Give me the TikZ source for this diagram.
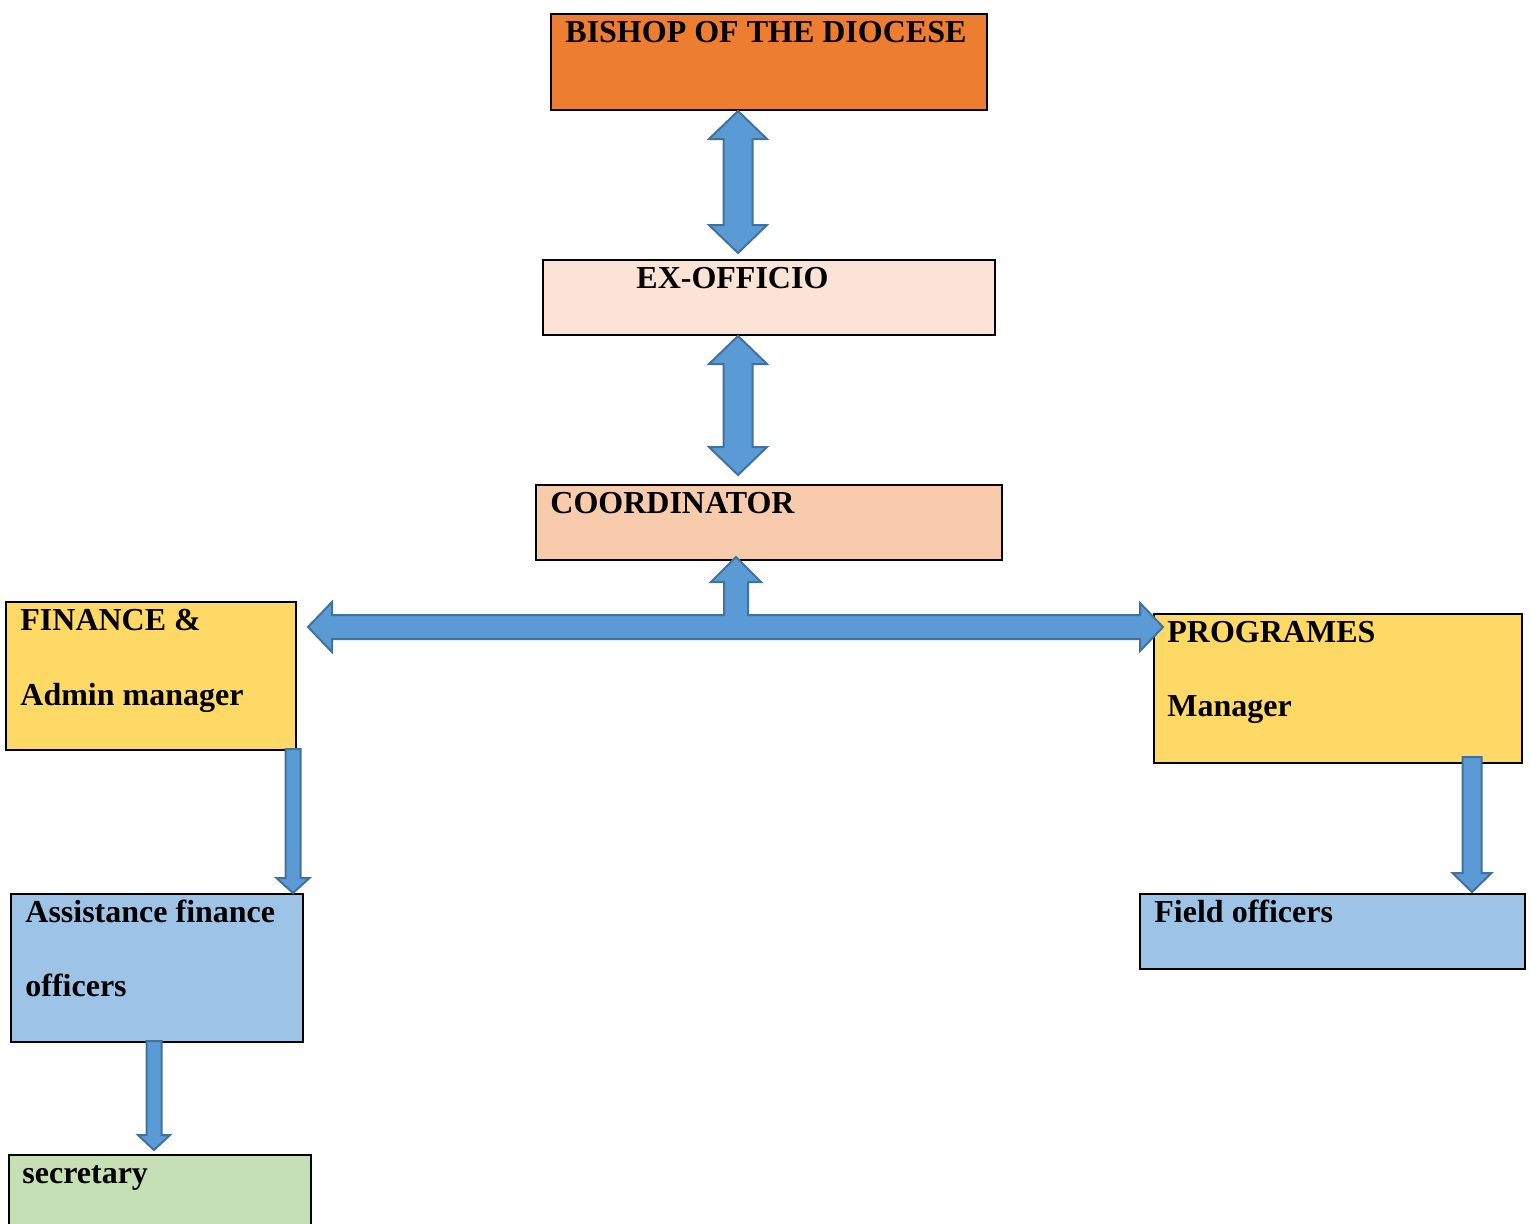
\documentclass[tikz,border=0pt]{standalone}
\usepackage{fontspec}
\setmainfont{Liberation Serif}
\usetikzlibrary{calc}

\definecolor{bishopfill}{HTML}{ED7D31}
\definecolor{exfill}{HTML}{FBE4D5}
\definecolor{coordfill}{HTML}{F8CBAD}
\definecolor{mgrfill}{HTML}{FFD966}
\definecolor{officerfill}{HTML}{9DC3E6}
\definecolor{secfill}{HTML}{C5E0B4}
\definecolor{arrowfill}{HTML}{5B9BD5}
\definecolor{arrowline}{HTML}{41719C}

\tikzset{
    box/.style = {draw=black, line width=1pt, rectangle, inner sep=0pt, anchor=north west},
    txt/.style = {font=\fontsize{16pt}{19pt}\selectfont\bfseries, inner sep=0pt, anchor=base west},
    blockarrow/.style = {fill=arrowfill, draw=arrowline, line width=1pt, line join=miter}
}

% down arrow from #1 (top of shaft) to #2 (tip); half shaft, half head, head length in px
\newcommand{\downblock}[5]{%
    \draw[blockarrow] let \p1=(#1), \p2=(#2) in
        (\x1-#3*0.5pt,\y1) -- (\x1+#3*0.5pt,\y1) -- (\x1+#3*0.5pt,\y2+#5*0.5pt)
        -- (\x1+#4*0.5pt,\y2+#5*0.5pt) -- (\x1,\y2) -- (\x1-#4*0.5pt,\y2+#5*0.5pt)
        -- (\x1-#3*0.5pt,\y2+#5*0.5pt) -- cycle;
}
% up-down arrow between tips #1 (top) and #2 (bottom)
\newcommand{\dblblock}[2]{%
    \draw[blockarrow] let \p1=(#1), \p2=(#2) in
        (\x1,\y1) -- (\x1+14.5pt,\y1-14pt) -- (\x1+7.25pt,\y1-14pt)
        -- (\x1+7.25pt,\y2+14pt) -- (\x1+14.5pt,\y2+14pt) -- (\x1,\y2)
        -- (\x1-14.5pt,\y2+14pt) -- (\x1-7.25pt,\y2+14pt)
        -- (\x1-7.25pt,\y1-14pt) -- (\x1-14.5pt,\y1-14pt) -- cycle;
}

\begin{document}
\begin{tikzpicture}[x=0.5pt, y=-0.5pt]
    \useasboundingbox (0,0) rectangle (1531,1223);

    % boxes
    \node[box, fill=bishopfill, minimum width=218pt, minimum height=48pt] (bishop) at (550,13) {};
    \node[box, fill=exfill, minimum width=226pt, minimum height=37.5pt] (exofficio) at (542,259) {};
    \node[box, fill=coordfill, minimum width=233pt, minimum height=37.5pt] (coordinator) at (535,484) {};
    \node[box, fill=mgrfill, minimum width=145pt, minimum height=74pt] (finance) at (5,601) {};
    \node[box, fill=mgrfill, minimum width=184pt, minimum height=74.5pt] (programes) at (1153,613) {};
    \node[box, fill=officerfill, minimum width=146pt, minimum height=74pt] (assistance) at (10,893) {};
    \node[box, fill=officerfill, minimum width=192.5pt, minimum height=37.5pt] (field) at (1139,893) {};
    \node[box, fill=secfill, minimum width=151pt, minimum height=45pt] (secretary) at (8,1154) {};

    % texts
    \node[txt] (bishop-t) at ([shift={(15,29)}]bishop.north west) {BISHOP OF THE DIOCESE};
    \node[txt] (exofficio-t) at ([shift={(94,29)}]exofficio.north west) {EX-OFFICIO};
    \node[txt] (coordinator-t) at ([shift={(15,29)}]coordinator.north west) {COORDINATOR};
    \node[txt] (finance-t1) at ([shift={(15,29)}]finance.north west) {FINANCE \&};
    \node[txt] (finance-t2) at ([shift={(0,75)}]finance-t1.base west) {Admin manager};
    \node[txt] (programes-t1) at ([shift={(14,29)}]programes.north west) {PROGRAMES};
    \node[txt] (programes-t2) at ([shift={(0,74)}]programes-t1.base west) {Manager};
    \node[txt] (assistance-t1) at ([shift={(15,29)}]assistance.north west) {Assistance finance};
    \node[txt] (assistance-t2) at ([shift={(0,74)}]assistance-t1.base west) {officers};
    \node[txt] (field-t) at ([shift={(15,29)}]field.north west) {Field officers};
    \node[txt] (secretary-t) at ([shift={(14,29)}]secretary.north west) {secretary};

    % arrow end points
    \coordinate (a1top) at (738,111);
    \coordinate (a1bot) at (738,253);
    \coordinate (a2top) at (738,336);
    \coordinate (a2bot) at (738,475);
    \coordinate (fintop) at (293,749);
    \coordinate (fintip) at (293,893);
    \coordinate (asstop) at (154,1041);
    \coordinate (asstip) at (154,1150);
    \coordinate (progtop) at (1472,757);
    \coordinate (progtip) at (1472,892);

    % arrows
    \dblblock{a1top}{a1bot}
    \dblblock{a2top}{a2bot}
    \draw[blockarrow] (308,627) -- (332,602) -- (332,615) -- (724,615) -- (724,582)
        -- (711,582) -- (736,557) -- (761,582) -- (748,582) -- (748,615)
        -- (1140,615) -- (1140,603) -- (1163,627) -- (1140,651) -- (1140,639)
        -- (332,639) -- (332,652) -- cycle;
    \downblock{fintop}{fintip}{7.5}{16.5}{15}
    \downblock{asstop}{asstip}{7.5}{16}{15}
    \downblock{progtop}{progtip}{9.5}{19.5}{19}
\end{tikzpicture}
\end{document}
